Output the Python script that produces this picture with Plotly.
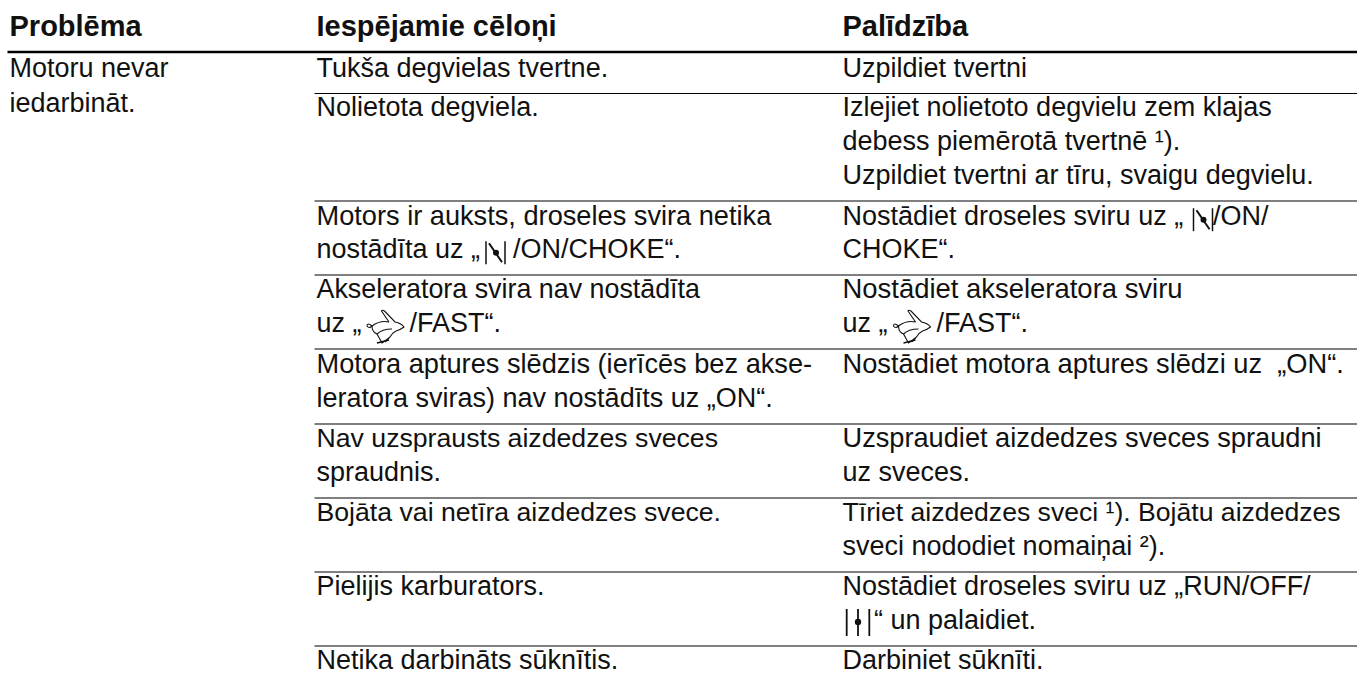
import plotly.graph_objects as go

# ---- table content ----
HEADERS = ["Problēma", "Iespējamie cēloņi", "Palīdzība"]
PROBLEM_LINES = ["Motoru nevar", "iedarbināt."]
CAUSE_ROWS = [
    ["Tukša degvielas tvertne."],
    ["Nolietota degviela."],
    ["Motors ir auksts, droseles svira netika", "nostādīta uz „"],
    ["Akseleratora svira nav nostādīta", "uz „"],
    ["Motora aptures slēdzis (ierīcēs bez akse-", "leratora sviras) nav nostādīts uz „ON“."],
    ["Nav uzsprausts aizdedzes sveces", "spraudnis."],
    ["Bojāta vai netīra aizdedzes svece."],
    ["Pielijis karburators."],
    ["Netika darbināts sūknītis."],
]
REMEDY_ROWS = [
    ["Uzpildiet tvertni"],
    ["Izlejiet nolietoto degvielu zem klajas", "debess piemērotā tvertnē ¹).", "Uzpildiet tvertni ar tīru, svaigu degvielu."],
    ["Nostādiet droseles sviru uz „", "CHOKE“."],
    ["Nostādiet akseleratora sviru", "uz „"],
    ["Nostādiet motora aptures slēdzi uz  „ON“."],
    ["Uzspraudiet aizdedzes sveces spraudni", "uz sveces."],
    ["Tīriet aizdedzes sveci ¹). Bojātu aizdedzes", "sveci nododiet nomaiņai ²)."],
    ["Nostādiet droseles sviru uz „RUN/OFF/", ""],
    ["Darbiniet sūknīti."],
]
# text that follows an inline symbol
CAUSE_TAILS = ["/ON/CHOKE“.", "/FAST“."]
REMEDY_TAILS = ["/ON/", "/FAST“.", "“ un palaidiet."]

# ---- layout constants ----
W, H = 1357, 685
COL_X = [9.5, 316.5, 842.5]
HEAD_RULE = 52
ROW_RULES = [93.5, 201, 275, 349, 424, 498, 572, 646]
BASELINES = [[78.3], [117.3, 151, 185], [226.7, 259.7], [299.5, 333.5], [374, 408],
             [448, 482], [522, 556.5], [596, 630.5], [670]]
PROBLEM_BASE = [78.3, 113]
HEAD_BASE = 37
MID = 8.0   # baseline minus text-middle
INK = "#111111"
BODY_SIZE = 27
# lines whose set width differs slightly in the original
LINE_SIZE = {
    "Nav uzsprausts aizdedzes sveces": 26.67,
    "Bojāta vai netīra aizdedzes svece.": 26.67,
    "Akseleratora svira nav nostādīta": 26.85,
    "Motora aptures slēdzis (ierīcēs bez akse-": 27.2,
    "Nostādiet motora aptures slēdzi uz  „ON“.": 27.25,
    "Nostādiet akseleratora sviru": 27.45,
    "Uzspraudiet aizdedzes sveces spraudni": 27.2,
    "Motors ir auksts, droseles svira netika": 27.2,
    "Tīriet aizdedzes sveci ¹). Bojātu aizdedzes": 26.6,
}

fig = go.Figure()


def add_text(xs, ys, texts, size=None, weight="normal"):
    sizes = size if size else [LINE_SIZE.get(t, BODY_SIZE) for t in texts]
    fig.add_trace(go.Scatter(
        x=xs, y=[y - MID for y in ys], text=texts, mode="text",
        textposition="middle right", hoverinfo="skip", showlegend=False, cliponaxis=False,
        textfont=dict(family="Liberation Sans", size=sizes, color=INK, weight=weight),
    ))


# header
add_text(COL_X, [HEAD_BASE] * 3, HEADERS, size=29, weight="bold")

# first column
add_text([COL_X[0]] * len(PROBLEM_LINES), PROBLEM_BASE, PROBLEM_LINES)

# second and third columns
for col, rows in ((1, CAUSE_ROWS), (2, REMEDY_ROWS)):
    xs, ys, ts = [], [], []
    for r, lines in enumerate(rows):
        for l, t in enumerate(lines):
            if t:
                xs.append(COL_X[col]); ys.append(BASELINES[r][l]); ts.append(t)
    add_text(xs, ys, ts)

# text after the inline symbols
add_text([513, 409.5], [BASELINES[2][1], BASELINES[3][1]], CAUSE_TAILS)
add_text([1213, 936.5, 874], [BASELINES[2][0], BASELINES[3][1], BASELINES[7][1]], REMEDY_TAILS)

# rules
fig.add_trace(go.Scatter(x=[7.5, W], y=[HEAD_RULE, HEAD_RULE], mode="lines", hoverinfo="skip",
                         showlegend=False, line=dict(color="#000000", width=2.4)))
tx, ty = [], []
for y in ROW_RULES:
    tx += [314.5, W, None]; ty += [y, y, None]
fig.add_trace(go.Scatter(x=tx, y=ty, mode="lines", hoverinfo="skip", showlegend=False,
                         line=dict(color="#000000", width=1.2)))

# inline symbols
shapes = []


def stroke(path, width=1.0):
    shapes.append(dict(type="path", path=path, xref="x", yref="y",
                       line=dict(color=INK, width=width)))


def dot(cx, cy, r):
    shapes.append(dict(type="circle", xref="x", yref="y", x0=cx - r, x1=cx + r, y0=cy - r, y1=cy + r,
                       fillcolor=INK, line=dict(width=0)))


def choke(x, b):
    t = b - 18.5
    stroke(f"M{x},{t} L{x},{t+23}", 1.5)
    stroke(f"M{x+19},{t} L{x+19},{t+23}", 1.5)
    stroke(f"M{x+3},{t+2} L{x+16},{t+21}", 2.0)
    dot(x + 10, t + 11.5, 3.0)


def rabbit(x, y):
    p = lambda a, b: f"{x+a:.1f},{y+b:.1f}"
    # ear, head, chest, front leg
    stroke(f"M{p(23,12)} L{p(15.5,1)} Q{p(16,-0.5)} {p(18.5,1)} L{p(29,12)} Q{p(35,13)} {p(38,17)} "
           f"Q{p(34,20)} {p(30,21)} Q{p(26,23)} {p(24,27)} L{p(19,32)}", 1.1)
    # back and tail
    stroke(f"M{p(23,12)} Q{p(14,10)} {p(6,16)} Q{p(3,19)} {p(1,16)} Q{p(1,12)} {p(6,16)}", 1.1)
    # belly and hind leg
    stroke(f"M{p(6,16)} Q{p(6,22)} {p(11,24)} L{p(16,33)} L{p(23,28)}", 1.1)
    stroke(f"M{p(11,24)} Q{p(16,19)} {p(26,19)}", 1.1)
    stroke(f"M{p(11,33)} L{p(23,30)}", 1.4)


def fuel(x, b):
    t = b - 21.5
    stroke(f"M{x},{t} L{x},{t+27}", 1.8)
    stroke(f"M{x+11.3},{t} L{x+11.3},{t+27}", 1.8)
    stroke(f"M{x+22.6},{t} L{x+22.6},{t+27}", 1.8)
    dot(x + 11.3, t + 13, 3.2)


choke(486, BASELINES[2][1])
choke(1193.5, BASELINES[2][0])
rabbit(366, 310)
rabbit(892.5, 310)
fuel(846.7, BASELINES[7][1])

fig.update_layout(
    width=W, height=H, autosize=False, margin=dict(l=0, r=0, t=0, b=0),
    paper_bgcolor="white", plot_bgcolor="white", shapes=shapes, showlegend=False,
    xaxis=dict(range=[0, W], visible=False, fixedrange=True),
    yaxis=dict(range=[H, 0], visible=False, fixedrange=True),
)
fig.write_html("out.html", config={"displayModeBar": False},
               post_script="document.body.style.margin='0';document.documentElement.style.overflow='hidden';")
